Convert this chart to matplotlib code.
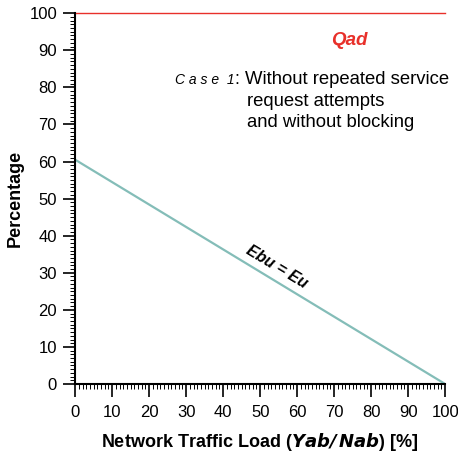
import numpy as np
import matplotlib.pyplot as plt
from matplotlib.ticker import MultipleLocator

plt.rcParams['font.family'] = ['Liberation Sans', 'DejaVu Sans']

# data
load = [0, 100]
ebu = [60.5, 0]
qad = [100, 100]

fig = plt.figure(figsize=(4.58, 4.55), dpi=100)
ax = fig.add_axes([0.164, 0.156, 0.808, 0.815])

ax.plot(load, qad, color='#e8302a', lw=1.0, clip_on=False)
ax.plot(load, ebu, color='#84bdb8', lw=1.6)

ax.set_xlim(0, 100)
ax.set_ylim(0, 100)
ax.spines['top'].set_visible(False)
ax.spines['right'].set_visible(False)
ax.spines['left'].set_linewidth(1.5)
ax.spines['bottom'].set_linewidth(1.5)

ax.xaxis.set_major_locator(MultipleLocator(10))
ax.xaxis.set_minor_locator(MultipleLocator(1))
ax.yaxis.set_major_locator(MultipleLocator(10))
ax.yaxis.set_minor_locator(MultipleLocator(1))
ax.tick_params(which='major', direction='out', length=9, width=1.2, labelsize=12, pad=4)
ax.tick_params(which='minor', direction='out', length=3.6, width=0.7)
ax.tick_params(axis='x', which='major', pad=6)

ax.set_xlabel('Network Traffic Load ($\\bfit{Yab/\\,Nab}$) [%]', fontsize=13, fontweight='bold', labelpad=8)
ax.set_ylabel('Percentage', fontsize=13, fontweight='bold', labelpad=4)

ax.text(74, 92.7, 'Qad', color='#e8302a', fontsize=13.5, fontweight='bold', style='italic',
        ha='center', va='center')
ax.text(27, 82, 'C a s e  1', fontsize=10, style='italic', ha='left', va='center')
ax.text(43, 82, ':', fontsize=13, ha='left', va='center')
ax.text(46, 82, 'Without repeated service', fontsize=13.3, ha='left', va='center')
ax.text(46.5, 76.3, 'request attempts', fontsize=13.3, ha='left', va='center')
ax.text(46.5, 70.6, 'and without blocking', fontsize=13.3, ha='left', va='center')
ax.text(54.6, 31.5, 'Ebu = Eu', fontsize=11.5, fontweight='bold', style='italic',
        rotation=-31.2, ha='center', va='center')

plt.savefig('out.png', dpi=100)
